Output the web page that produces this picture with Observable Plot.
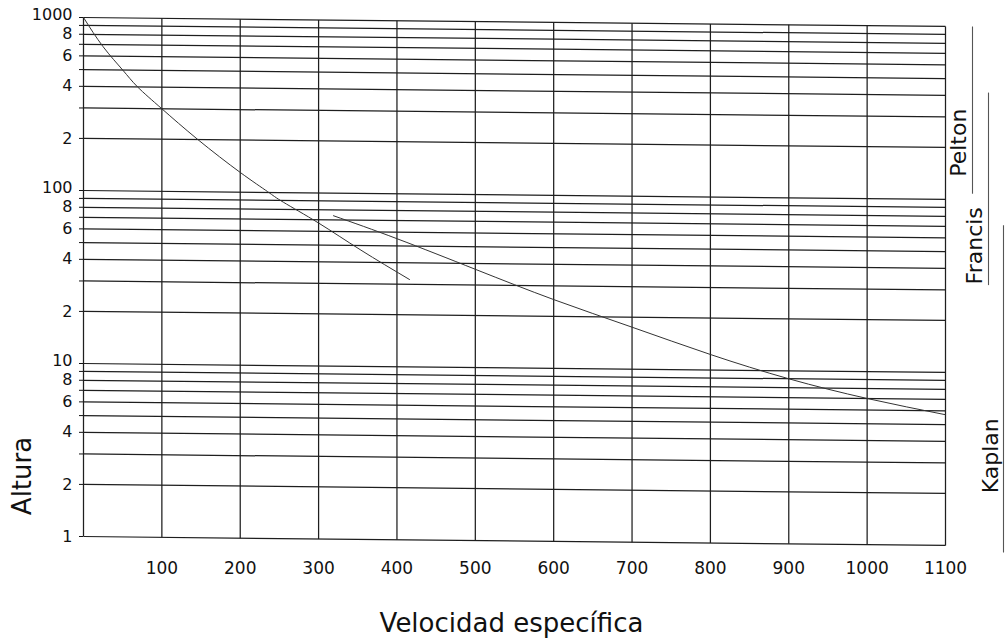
<!DOCTYPE html>
<html>
<head>
<meta charset="utf-8">
<script src="https://cdn.jsdelivr.net/npm/d3@7"></script>
<script src="https://cdn.jsdelivr.net/npm/@observablehq/plot@0.6"></script>
<style>
  html, body { margin: 0; padding: 0; background: #fff; }
  #chart svg { display: block; }
</style>
</head>
<body>
<div id="chart"></div>
<script>
// ---------- data ----------
const gridHeads = [1,2,3,4,5,6,7,8,9,10,20,30,40,50,60,70,80,90,100,200,300,400,500,600,700,800,900,1000];
const yLabelValues = [1,2,4,6,8,10,20,40,60,80,100,200,400,600,800,1000];
const yLabelTexts  = ["1","2","4","6","8","10","2","4","6","8","100","2","4","6","8","1000"];
const xGrid = [0,100,200,300,400,500,600,700,800,900,1000,1100];
const xTickValues = [100,200,300,400,500,600,700,800,900,1000,1100];

// upper (steep) curve
const curve1X = [0, 25, 50, 69, 100, 146, 200, 235, 255, 300, 354, 416];
const curve1Y = [1000, 680, 500, 400, 300, 200, 130, 101, 88, 67, 47, 32];
// lower (long) curve
const curve2X = [319, 400, 500, 600, 700, 800, 900, 1000, 1100];
const curve2Y = [74, 55, 37, 25, 17.5, 12.3, 9, 7, 5.7];

// turbine head ranges (right side)
const turbineNames = ["Pelton", "Francis", "Kaplan"];
const turbineHigh  = [1000, 415, 71];
const turbineLow   = [108, 32, 0.91];
const turbineLabelHead = [213, 54, 3.3];

// ---------- layout / style ----------
const TILT = 0.052;          // the drawn grid sags slightly to the right (decades over full width)
const XMAX = 1100;
const tilt = (x, v) => v * Math.pow(10, -TILT * x / XMAX);
const lineDx = [27, 43, 58];
const textDx = [13, 29, 45];
const gridColor = "#1e1e1e";

const curve1 = curve1X.map((x, i) => ({x, y: curve1Y[i]}));
const curve2 = curve2X.map((x, i) => ({x, y: curve2Y[i]}));
const turbines = turbineNames.map((name, i) => ({name, hi: turbineHigh[i], lo: turbineLow[i], at: turbineLabelHead[i]}));
const yLabels = yLabelValues.map((v, i) => ({v, text: yLabelTexts[i]}));
const isDecade = d => d.v >= 10 && Math.abs(Math.log10(d.v) % 1) < 1e-9;

const turbineMarks = turbines.flatMap((t, i) => [
  Plot.link([t], {
    x1: () => XMAX, x2: () => XMAX,
    y1: d => tilt(XMAX, d.hi), y2: d => tilt(XMAX, d.lo),
    dx: lineDx[i], stroke: "#555", strokeWidth: 1.1
  }),
  Plot.text([t], {
    x: () => XMAX, y: d => tilt(XMAX, d.at), text: d => d.name,
    rotate: -90, dx: textDx[i], fontSize: 22, fill: "#111"
  })
]);

const chart = Plot.plot({
  width: 1005,
  height: 639,
  marginTop: 17,
  marginBottom: 103,
  marginLeft: 83,
  marginRight: 60,
  style: { fontFamily: "'DejaVu Sans', Verdana, sans-serif", fontSize: "17px", color: "#111", background: "#fff" },
  x: { domain: [0, XMAX] },
  y: { type: "log", domain: [1, 1000] },
  marks: [
    Plot.axisY({ ticks: gridHeads, tickSize: 4, tickFormat: () => "", label: null }),
    Plot.text(yLabels.filter(d => !isDecade(d)), {
      x: () => 0, y: "v", text: "text",
      textAnchor: "end", dx: -11, fontSize: 16, fill: "#111"
    }),
    Plot.text(yLabels.filter(isDecade), {
      x: () => 0, y: "v", text: "text",
      textAnchor: "end", dx: -11, dy: -3, fontSize: 16, fill: "#111"
    }),
    Plot.axisX({ ticks: xTickValues, tickSize: 0, tickPadding: 25, tickFormat: d => String(d), label: null, fontSize: 17 }),
    // horizontal grid (slightly sloping)
    Plot.link(gridHeads, {
      x1: () => 0, y1: d => d, x2: () => XMAX, y2: d => tilt(XMAX, d),
      stroke: gridColor, strokeWidth: 1.25
    }),
    // vertical grid
    Plot.link(xGrid, {
      x1: d => d, x2: d => d, y1: d => tilt(d, 1), y2: d => tilt(d, 1000),
      stroke: gridColor, strokeWidth: 1.25
    }),
    Plot.line(curve1, { x: "x", y: d => tilt(d.x, d.y), curve: "natural", stroke: "#333", strokeWidth: 1 }),
    Plot.line(curve2, { x: "x", y: d => tilt(d.x, d.y), curve: "natural", stroke: "#333", strokeWidth: 1 }),
    ...turbineMarks,
    Plot.text(["Altura"], { frameAnchor: "left", textAnchor: "middle", lineAnchor: "middle", rotate: -90, dx: -61, dy: 199, fontSize: 26, fill: "#111" }),
    Plot.text(["Velocidad específica"], { frameAnchor: "bottom", textAnchor: "middle", lineAnchor: "middle", dx: -3, dy: 87, fontSize: 26, fill: "#111" })
  ]
});
document.getElementById("chart").appendChild(chart);
</script>
</body>
</html>
